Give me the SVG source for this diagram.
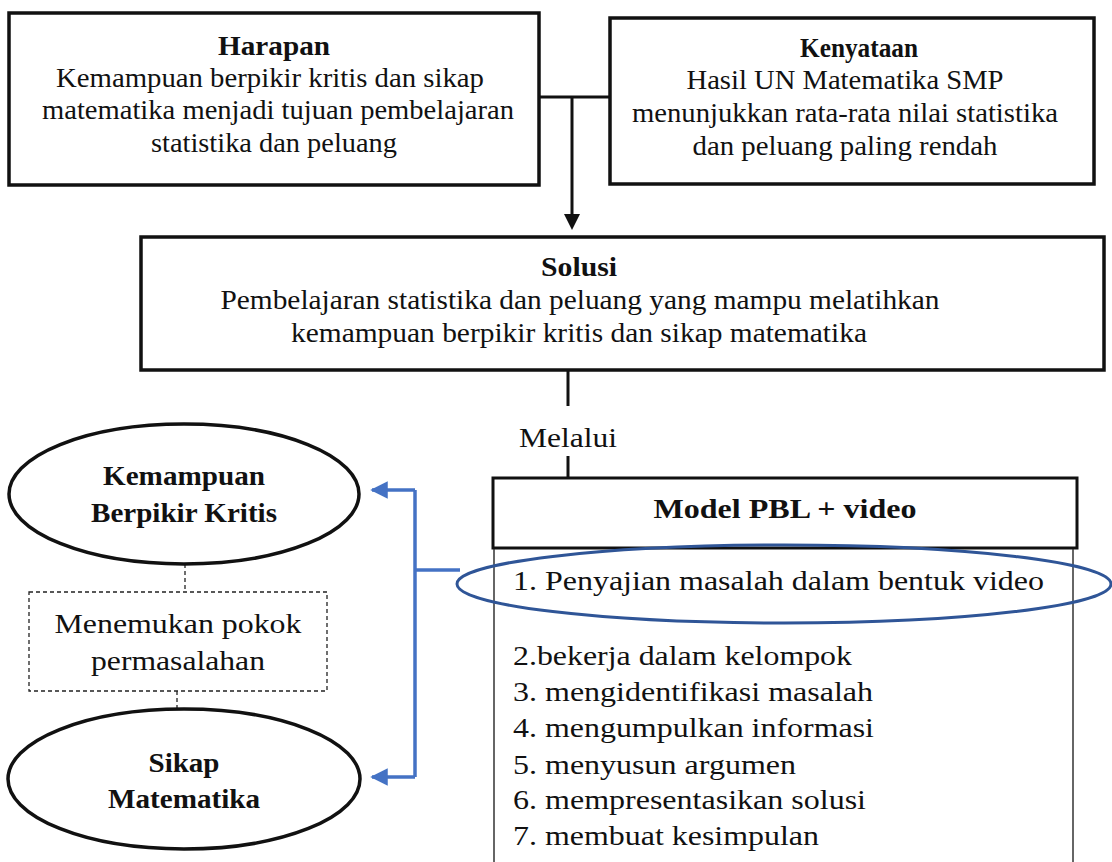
<svg xmlns="http://www.w3.org/2000/svg" width="1112" height="862" viewBox="0 0 1112 862">
<defs>
<style>
text{font-size:28px;fill:#111;}
.c{text-anchor:middle;}
.b{font-weight:bold;}
.box{fill:#fff;stroke:#111;stroke-width:3.5;}
.ell{fill:#fff;stroke:#111;stroke-width:3.5;}
.conn{fill:none;stroke:#111;stroke-width:3;}
.dash{fill:none;stroke:#222;stroke-width:1.3;stroke-dasharray:4 3;}
.blue{fill:none;stroke:#4472C4;stroke-width:3.5;}
</style>
<marker id="ab" viewBox="0 0 10 10" refX="9" refY="5" markerWidth="5" markerHeight="5" orient="auto" markerUnits="strokeWidth"><path d="M0,0 L10,5 L0,10 z" fill="#4472C4"/></marker>
</defs>
<rect width="1112" height="862" fill="#fff"/>

<g id="connectors">
<line class="conn" x1="540" y1="97" x2="610" y2="97"/>
<line class="conn" x1="572" y1="97" x2="572" y2="216"/>
<path d="M564,214 L580,214 L572,230 z" fill="#111"/>
<line class="conn" x1="568" y1="370" x2="568" y2="406"/>
<line class="conn" x1="568" y1="456" x2="568" y2="478"/>
<line class="dash" x1="185" y1="564" x2="185" y2="592"/>
<line class="dash" x1="177" y1="691" x2="177" y2="709"/>
<path class="blue" d="M460,570 L415,570"/>
<path class="blue" d="M415,490 L415,777"/>
<path class="blue" d="M415,490 L372,490" marker-end="url(#ab)"/>
<path class="blue" d="M415,777 L372,777" marker-end="url(#ab)"/>
</g>

<g font-family="Liberation Serif, Times New Roman, Tinos, Nimbus Roman, Times, serif">
<g id="harapan">
<rect class="box" x="9" y="13" width="530" height="172"/>
<text class="c b" x="274" y="55" textLength="112" lengthAdjust="spacingAndGlyphs">Harapan</text>
<text class="c" x="270" y="87" textLength="428" lengthAdjust="spacingAndGlyphs">Kemampuan berpikir kritis dan sikap</text>
<text class="c" x="278" y="119" textLength="472" lengthAdjust="spacingAndGlyphs">matematika menjadi tujuan pembelajaran</text>
<text class="c" x="274" y="152" textLength="246" lengthAdjust="spacingAndGlyphs">statistika dan peluang</text>
</g>

<g id="kenyataan">
<rect class="box" x="610" y="18" width="484" height="166"/>
<text class="c b" x="859" y="57" textLength="118" lengthAdjust="spacingAndGlyphs">Kenyataan</text>
<text class="c" x="845" y="89" textLength="317" lengthAdjust="spacingAndGlyphs">Hasil UN Matematika SMP</text>
<text class="c" x="845" y="122" textLength="426" lengthAdjust="spacingAndGlyphs">menunjukkan rata-rata nilai statistika</text>
<text class="c" x="845" y="155" textLength="305" lengthAdjust="spacingAndGlyphs">dan peluang paling rendah</text>
</g>

<g id="solusi">
<rect class="box" x="141" y="237" width="963" height="133"/>
<text class="c b" x="579" y="276" textLength="76" lengthAdjust="spacingAndGlyphs">Solusi</text>
<text class="c" x="580" y="309" textLength="719" lengthAdjust="spacingAndGlyphs">Pembelajaran statistika dan peluang yang mampu melatihkan</text>
<text class="c" x="579" y="342" textLength="576" lengthAdjust="spacingAndGlyphs">kemampuan berpikir kritis dan sikap matematika</text>
</g>

<g id="melalui">
<text class="c" x="568" y="447" textLength="98" lengthAdjust="spacingAndGlyphs">Melalui</text>
</g>

<g id="model-pbl">
<rect x="493" y="478" width="584" height="70" fill="#fff" stroke="#111" stroke-width="3"/>
<text class="c b" x="785" y="518" textLength="263" lengthAdjust="spacingAndGlyphs">Model PBL + video</text>
</g>

<g id="langkah">
<line x1="494" y1="549" x2="494" y2="862" stroke="#333" stroke-width="1.5"/>
<line x1="1073" y1="549" x2="1073" y2="862" stroke="#333" stroke-width="1.5"/>
<text x="513" y="590" textLength="531" lengthAdjust="spacingAndGlyphs">1. Penyajian masalah dalam bentuk video</text>
<text x="513" y="665" textLength="339" lengthAdjust="spacingAndGlyphs">2.bekerja dalam kelompok</text>
<text x="513" y="701" textLength="360" lengthAdjust="spacingAndGlyphs">3. mengidentifikasi masalah</text>
<text x="513" y="737" textLength="361" lengthAdjust="spacingAndGlyphs">4. mengumpulkan informasi</text>
<text x="513" y="774" textLength="283" lengthAdjust="spacingAndGlyphs">5. menyusun argumen</text>
<text x="513" y="809" textLength="353" lengthAdjust="spacingAndGlyphs">6. mempresentasikan solusi</text>
<text x="513" y="845" textLength="306" lengthAdjust="spacingAndGlyphs">7. membuat kesimpulan</text>
</g>

<g id="highlight">
<ellipse cx="784" cy="584" rx="327" ry="39" fill="none" stroke="#2F5597" stroke-width="3"/>
</g>

<g id="kemampuan">
<ellipse class="ell" cx="184" cy="494" rx="175" ry="70"/>
<text class="c b" x="184" y="485" textLength="162" lengthAdjust="spacingAndGlyphs">Kemampuan</text>
<text class="c b" x="184" y="522" textLength="186" lengthAdjust="spacingAndGlyphs">Berpikir Kritis</text>
</g>

<g id="menemukan">
<rect class="dash" x="29" y="592" width="298" height="99"/>
<text class="c" x="178" y="633" textLength="247" lengthAdjust="spacingAndGlyphs">Menemukan pokok</text>
<text class="c" x="178" y="670" textLength="174" lengthAdjust="spacingAndGlyphs">permasalahan</text>
</g>

<g id="sikap">
<ellipse class="ell" cx="184" cy="779" rx="176" ry="70"/>
<text class="c b" x="184" y="772" textLength="71" lengthAdjust="spacingAndGlyphs">Sikap</text>
<text class="c b" x="184" y="808" textLength="152" lengthAdjust="spacingAndGlyphs">Matematika</text>
</g>
</g>
</svg>
